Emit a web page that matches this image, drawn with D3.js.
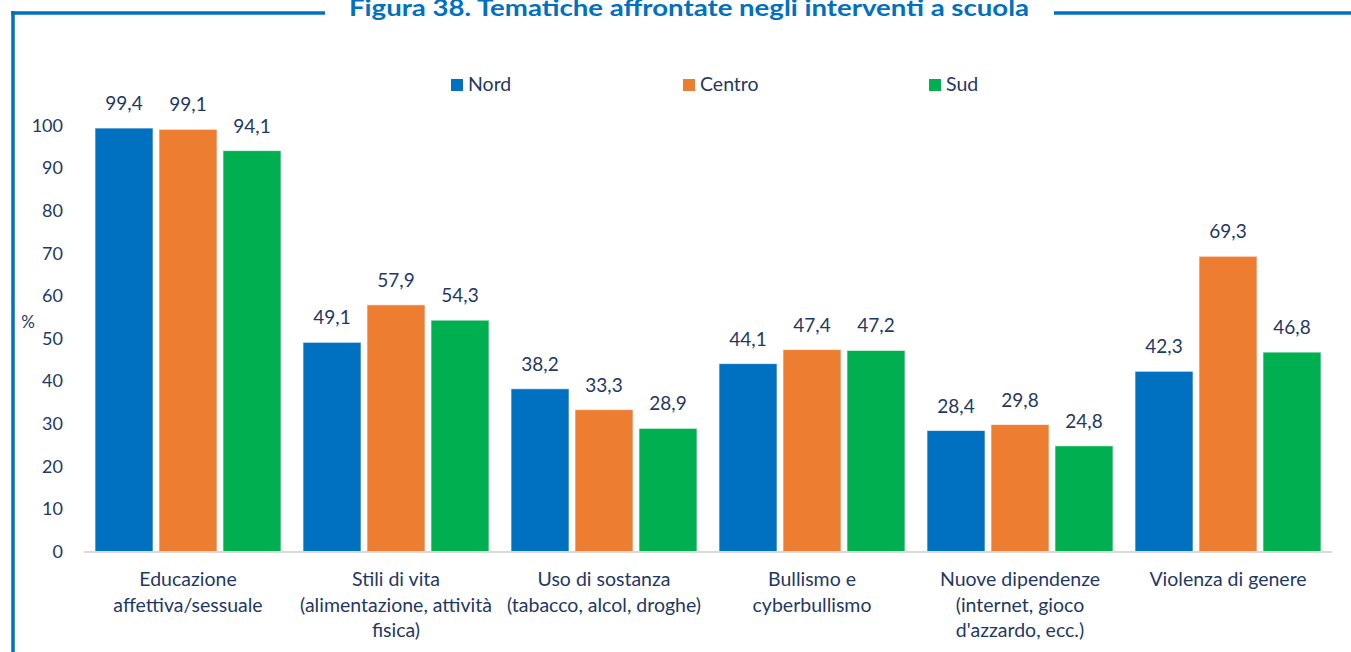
<!DOCTYPE html>
<html>
<head>
<meta charset="utf-8">
<script src="https://cdn.jsdelivr.net/npm/d3@7/dist/d3.min.js"></script>
<style>
  html, body { margin: 0; padding: 0; background: #fff; }
  svg { display: block; }
</style>
</head>
<body>
<svg id="chart" width="1351" height="652"></svg>
<script>
// Tematiche affrontate negli interventi a scuola, per ripartizione (%)
const categories = [
  ["Educazione", "affettiva/sessuale"],
  ["Stili di vita", "(alimentazione, attività", "fisica)"],
  ["Uso di sostanza", "(tabacco, alcol, droghe)"],
  ["Bullismo e", "cyberbullismo"],
  ["Nuove dipendenze", "(internet, gioco", "d'azzardo, ecc.)"],
  ["Violenza di genere"]
];
const seriesNames = ["Nord", "Centro", "Sud"];
const nord   = [99.4, 49.1, 38.2, 44.1, 28.4, 42.3];
const centro = [99.1, 57.9, 33.3, 47.4, 29.8, 69.3];
const sud    = [94.1, 54.3, 28.9, 47.2, 24.8, 46.8];
const yTicks = [0, 10, 20, 30, 40, 50, 60, 70, 80, 90, 100];
const titleText = "Figura 38. Tematiche affrontate negli interventi a scuola";

const colors = ["#0070C0", "#ED7D31", "#00B050"];
const textColor = "#1F3864";
const font = "Lato, 'Open Sans', sans-serif";
const seriesValues = [nord, centro, sud];

const svg = d3.select("#chart");

// Frame and title
const frameBlue = "#0070C0";
svg.append("line").attr("x1", 13).attr("x2", 13).attr("y1", 11).attr("y2", 652)
  .attr("stroke", frameBlue).attr("stroke-width", 3.5);
svg.append("line").attr("x1", 11.25).attr("x2", 325).attr("y1", 13).attr("y2", 13)
  .attr("stroke", frameBlue).attr("stroke-width", 3.5);
svg.append("line").attr("x1", 1054).attr("x2", 1351).attr("y1", 13).attr("y2", 13)
  .attr("stroke", frameBlue).attr("stroke-width", 3.5);
svg.append("text")
  .attr("x", 349).attr("y", 16)
  .attr("textLength", 680).attr("lengthAdjust", "spacingAndGlyphs")
  .attr("font-family", font).attr("font-weight", "bold").attr("font-size", 22)
  .attr("fill", frameBlue)
  .text(titleText);

// Scales
const x0 = d3.scaleBand().domain(d3.range(categories.length))
  .range([84, 1332]).paddingInner(0.106).paddingOuter(0.053);
const x1 = d3.scaleBand().domain(d3.range(seriesNames.length))
  .range([0, x0.bandwidth()]).paddingInner(0.094);
const y = d3.scaleLinear().domain([0, 100]).range([551.5, 125.5]);

// Y axis labels
const yAxis = d3.axisLeft(y).tickValues(yTicks).tickSize(0).tickPadding(0).tickFormat(d3.format("d"));
const yg = svg.append("g").attr("transform", "translate(63,0)").call(yAxis);
yg.select(".domain").remove();
yg.selectAll("text")
  .attr("font-family", font).attr("font-size", 18).attr("fill", textColor);

svg.append("text").attr("x", 28).attr("y", 328).attr("text-anchor", "middle")
  .attr("font-family", font).attr("font-size", 17).attr("fill", textColor).text("%");

// Bars
const groups = svg.append("g").selectAll("g")
  .data(categories.map((c, i) => i))
  .join("g")
  .attr("transform", i => `translate(${x0(i)},0)`);

groups.selectAll("rect")
  .data(i => seriesValues.map((s, k) => ({ k, v: s[i] })))
  .join("rect")
  .attr("x", d => x1(d.k))
  .attr("width", x1.bandwidth())
  .attr("y", d => y(d.v))
  .attr("height", d => y(0) - y(d.v))
  .attr("fill", d => colors[d.k])
  .attr("stroke", "#ffffff").attr("stroke-opacity", 0.6).attr("stroke-width", 1);

groups.selectAll("text.val")
  .data(i => seriesValues.map((s, k) => ({ k, v: s[i] })))
  .join("text")
  .attr("class", "val")
  .attr("x", d => x1(d.k) + x1.bandwidth() / 2)
  .attr("y", d => y(d.v) - 18)
  .attr("text-anchor", "middle")
  .attr("font-family", font).attr("font-size", 19).attr("fill", textColor)
  .text(d => d3.format(".1f")(d.v).replace(".", ","));

// X axis baseline
svg.append("line").attr("x1", 84).attr("x2", 1332).attr("y1", y(0) + 0.5).attr("y2", y(0) + 0.5)
  .attr("stroke", "#D9D9D9").attr("stroke-width", 2);

// Category labels
const labels = svg.append("g").selectAll("text")
  .data(categories)
  .join("text")
  .attr("text-anchor", "middle")
  .attr("font-family", font).attr("font-size", 19.5).attr("fill", textColor)
  .attr("transform", (c, i) => `translate(${x0(i) + x0.bandwidth() / 2},586)`);
labels.selectAll("tspan")
  .data(c => c)
  .join("tspan")
  .attr("x", 0)
  .attr("y", (d, j) => j * 25.5)
  .text(d => d);

// Legend
const legendX = [451, 683, 929];
const legend = svg.append("g").selectAll("g")
  .data(seriesNames)
  .join("g")
  .attr("transform", (d, i) => `translate(${legendX[i]},79)`);
legend.append("rect").attr("width", 12).attr("height", 12).attr("fill", (d, i) => colors[i]);
legend.append("text").attr("x", 17).attr("y", 12)
  .attr("font-family", font).attr("font-size", 19.5).attr("fill", textColor)
  .text(d => d);
</script>
</body>
</html>
